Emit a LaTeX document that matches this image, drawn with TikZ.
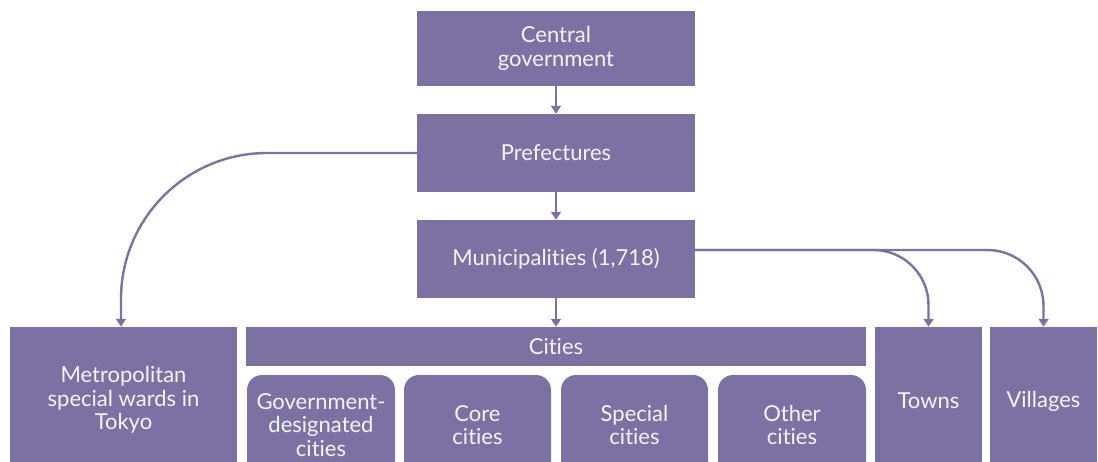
\documentclass[tikz,border=0pt]{standalone}
\usepackage{fontspec}
\setmainfont{Lato}[Ligatures={NoCommon}]
\usetikzlibrary{arrows.meta}
\definecolor{pur}{RGB}{123,114,163}
\definecolor{txt}{RGB}{245,244,248}
\begin{document}
\begin{tikzpicture}[x=1pt,y=-1pt,
  box/.style={fill=pur, text=txt, inner sep=0pt, align=center, font=\fontsize{22}{23.5}\selectfont},
  rbox/.style={box, rounded corners=15pt},
  conn/.style={draw=pur, line width=2.4pt, -{Triangle[length=8pt,width=10pt]}}]
\useasboundingbox (0,0) rectangle (1098,461);
\clip (0,0) rectangle (1098,461);
\node[box, minimum width=278pt, minimum height=75pt] (cg) at (556,48.5) {Central\\government};
\node[box, minimum width=278pt, minimum height=78pt] (pref) at (556,153) {Prefectures};
\node[box, minimum width=278pt, minimum height=78pt] (muni) at (556,259) {Municipalities (1,718)};
\node[box, minimum width=227pt, minimum height=146pt] (metro) at (123.5,400) {Metropolitan\\special wards in\\Tokyo};
\node[box, minimum width=620pt, minimum height=39pt] (cities) at (556,346.5) {Cities};
\node[rbox, minimum width=148pt, minimum height=100pt] (gov) at (321,425) {Government-\\designated\\cities};
\node[rbox, minimum width=147pt, minimum height=100pt] (core) at (477.5,425) {Core\\cities};
\node[rbox, minimum width=147pt, minimum height=100pt] (special) at (634.5,425) {Special\\cities};
\node[rbox, minimum width=148pt, minimum height=100pt] (other) at (792,425) {Other\\cities};
\node[box, minimum width=107pt, minimum height=148pt] (towns) at (928.5,401) {Towns};
\node[box, minimum width=107pt, minimum height=148pt] (villages) at (1043.5,401) {Villages};
\draw[conn] (cg) -- (pref);
\draw[conn] (pref) -- (muni);
\draw[conn] (muni) -- (cities);
\draw[conn, rounded corners=146pt] (pref.west) -| ([xshift=-2.5pt]metro.north);
\draw[conn, rounded corners=55pt] ([yshift=9pt]muni.east) -| (towns.north);
\draw[conn, rounded corners=56pt] ([yshift=9pt]muni.east) -| (villages.north);
\end{tikzpicture}
\end{document}
